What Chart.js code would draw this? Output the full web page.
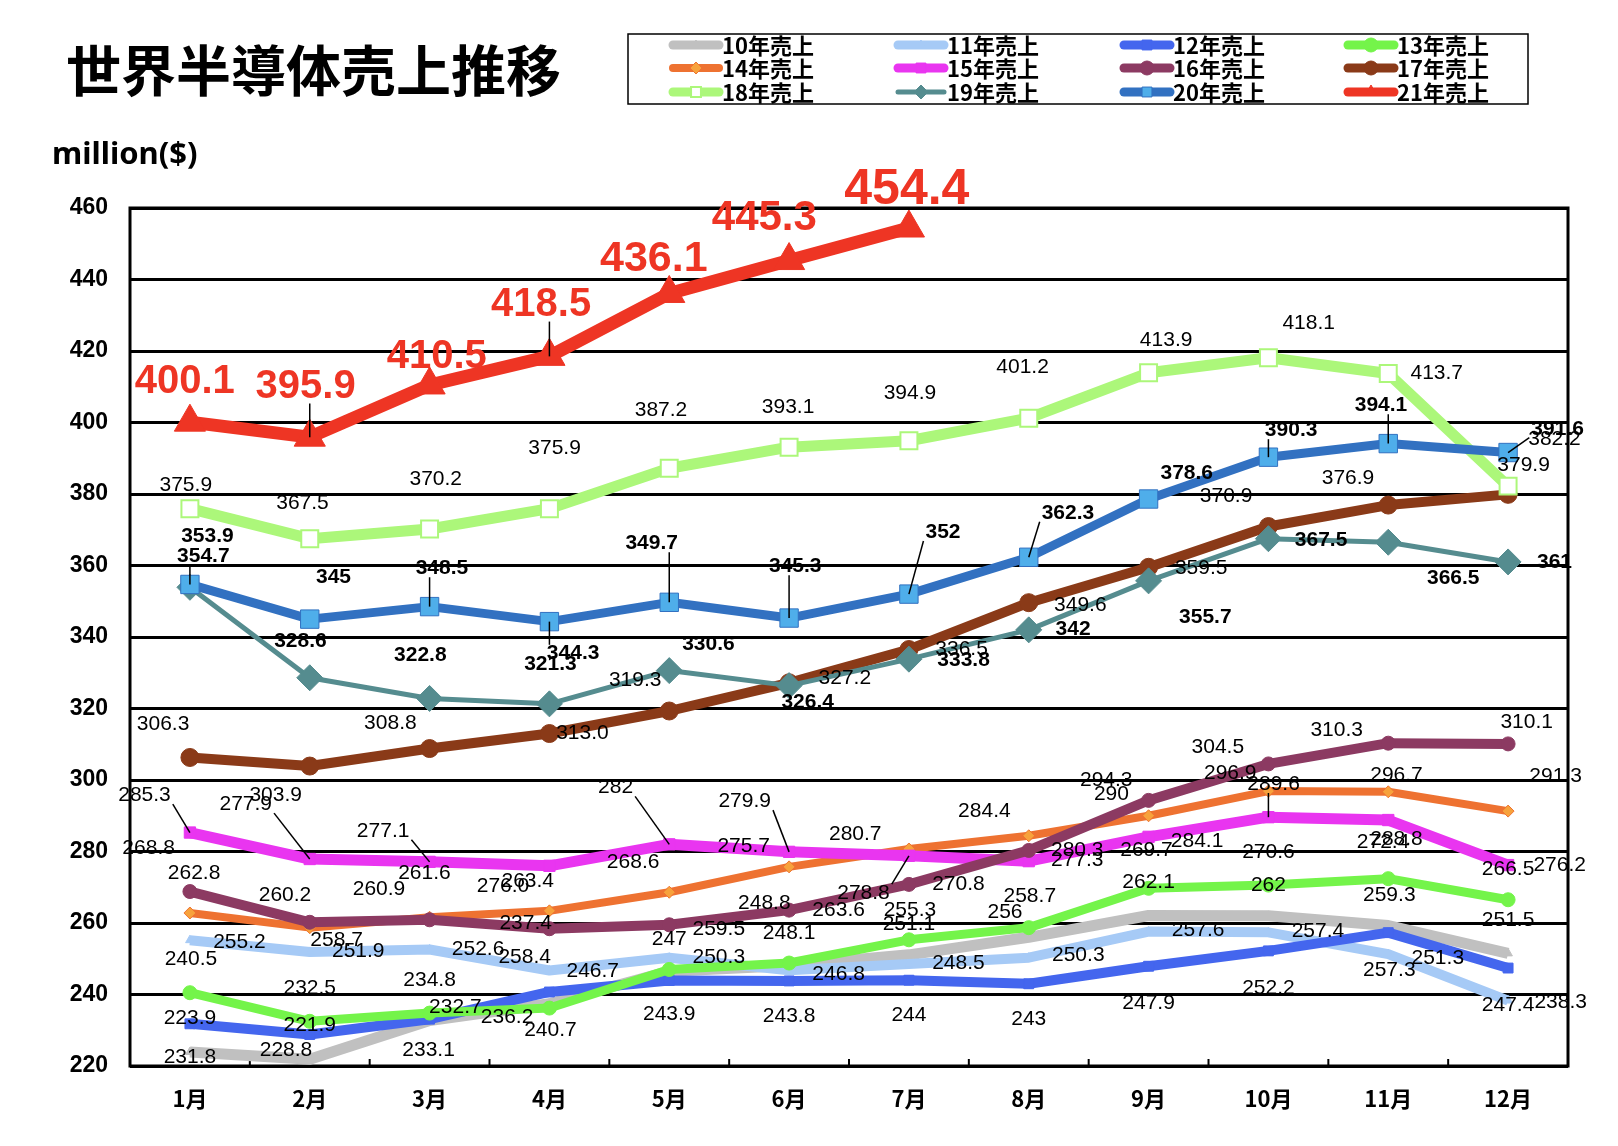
<!DOCTYPE html>
<html>
<head>
<meta charset="utf-8">
<script src="https://cdn.jsdelivr.net/npm/chart.js@4.4.1/dist/chart.umd.min.js"></script>
<style>
  html, body { margin: 0; padding: 0; background: #fff; }
  #wrap { position: relative; width: 1618px; height: 1146px; }
  #chart { position: absolute; left: 0; top: 0; }
  #title { position: absolute; left: 66px; top: 35px; font: 700 55px "Noto Sans CJK JP"; letter-spacing: 0; line-height: 64px; color: #000; }
  #unit { position: absolute; left: 52px; top: 132px; font: 700 31px "Noto Sans"; line-height: 40px; color: #000; }
</style>
</head>
<body>
<div id="wrap">
  <canvas id="chart" width="1618" height="1146"></canvas>
  <div id="title">世界半導体売上推移</div>
  <div id="unit">million($)</div>
</div>
<script>
const MONTHS = ['1月', '2月', '3月', '4月', '5月', '6月', '7月', '8月', '9月', '10月', '11月', '12月'];
const SERIES_NAMES = ['10年売上', '11年売上', '12年売上', '13年売上', '14年売上', '15年売上',
  '16年売上', '17年売上', '18年売上', '19年売上', '20年売上', '21年売上'];

const SALES_2010 = [223.9, 221.9, 232.7, 237.4, 246.5, 248.1, 251.1, 256, 262.1, 262, 259.3, 251.5];
const SALES_2011 = [255.2, 251.9, 252.6, 246.7, 250.3, 246.8, 248.5, 250.3, 257.6, 257.4, 251.3, 238.3];
const SALES_2012 = [231.8, 228.8, 233.1, 240.7, 243.9, 243.8, 244, 243, 247.9, 252.2, 257.3, 247.4];
const SALES_2013 = [240.5, 232.5, 234.8, 236.2, 247, 248.8, 255.3, 258.7, 269.7, 270.6, 272.4, 266.5];
const SALES_2014 = [262.8, 258.7, 261.6, 263.4, 268.6, 275.7, 280.7, 284.4, 290, 296.9, 296.7, 291.3];
const SALES_2015 = [285.3, 277.9, 277.1, 276.0, 282, 279.9, 278.8, 277.3, 284.1, 289.6, 288.8, 276.2];
const SALES_2016 = [268.8, 260.2, 260.9, 258.4, 259.5, 263.6, 270.8, 280.3, 294.3, 304.5, 310.3, 310.1];
const SALES_2017 = [306.3, 303.9, 308.8, 313.0, 319.3, 327.2, 336.5, 349.6, 359.5, 370.9, 376.9, 379.9];
const SALES_2018 = [375.9, 367.5, 370.2, 375.9, 387.2, 393.1, 394.9, 401.2, 413.9, 418.1, 413.7, 382.2];
const SALES_2019 = [353.9, 328.6, 322.8, 321.3, 330.6, 326.4, 333.8, 342, 355.7, 367.5, 366.5, 361];
const SALES_2020 = [354.7, 345, 348.5, 344.3, 349.7, 345.3, 352, 362.3, 378.6, 390.3, 394.1, 391.6];
const SALES_2021 = [400.1, 395.9, 410.5, 418.5, 436.1, 445.3, 454.4];

const Y_MIN = 220;
const Y_MAX = 460;
const Y_STEP = 20;

const ALL_SALES = [SALES_2010, SALES_2011, SALES_2012, SALES_2013, SALES_2014, SALES_2015,
  SALES_2016, SALES_2017, SALES_2018, SALES_2019, SALES_2020, SALES_2021];

// line look of each year
const STYLES = [
  { color: '#C0C0C0', width: 11, point: 'triangle', r: 5, fill: '#C0C0C0' },
  { color: '#A6CAF6', width: 10, point: 'triangle', r: 5, fill: '#A6CAF6' },
  { color: '#4466EE', width: 10, point: 'rect', r: 7, fill: '#4466EE' },
  { color: '#74F44A', width: 9, point: 'circle', r: 7, fill: '#74F44A' },
  { color: '#EE7231', width: 8, point: 'rectRot', r: 6, fill: '#F7A23C' },
  { color: '#E935F0', width: 11, point: 'rect', r: 8, fill: '#E935F0' },
  { color: '#8C3A62', width: 10, point: 'circle', r: 7, fill: '#8C3A62' },
  { color: '#8A3A18', width: 10, point: 'circle', r: 9, fill: '#8A3A18' },
  { color: '#ACF77A', width: 11, point: 'rect', r: 12, fill: '#FFFFFF' },
  { color: '#558C8F', width: 5, point: 'rectRot', r: 13, fill: '#558C8F' },
  { color: '#3271C1', width: 9, point: 'rect', r: 13, fill: '#4FAEEA' },
  { color: '#EE3524', width: 13, point: 'triangle', r: 18, fill: '#EE3524' }
];

// where each value label sits relative to its point (measured on the 1568px view)
const K = 1618 / 1568;
const LABEL_OFFSETS = [
  [[0,-33],[0,-33],[25,-13],[-23,-78],null,[0,-31],[0,-30],[-23,-24],[0,-32],[0,-30],[1,-29],[0,-32]],
  [[48,2],[47,-1],[47,0],[42,1],[48,0],[48,4],[48,-1],[48,-2],[48,-1],[48,-1],[48,4],[51,2]],
  [[0,32],[-23,15],[-1,30],[1,37],[0,33],[0,34],[0,34],[0,34],[0,36],[0,36],[1,36],[0,36]],
  [[1,-32],[0,-32],[0,-32],[-41,9],[0,-29],[-24,-58],[1,-29],[1,-30],[-2,-37],[0,-32],[-5,-35],[0,-30]],
  [[4,-39],[26,12],[-5,-43],[-21,-29],[-35,-29],[-44,-20],[-52,-14],[-43,-24],[-36,-21],[-37,-17],[8,-16],[46,-34]],
  [[-44,-36],[-62,-53],[-45,-30],[-45,20],[-52,-55],[-43,-49],[-44,36],[47,-1],[47,4],[5,-32],[8,19],[50,0]],
  [[-40,-42],[-24,-26],[-49,-30],[-24,28],[48,4],[48,0],[48,0],[47,0],[-41,-20],[-49,-16],[-50,-13],[18,-21]],
  [[-26,-32],[-33,28],[-38,-25],[32,0],[-33,-30],[54,-4],[51,0],[50,2],[51,1],[-41,-29],[-39,-26],[15,-28]],
  [[-4,-23],[-7,-34],[6,-48],[5,-59],[-8,-56],[-1,-39],[1,-46],[-6,-49],[17,-32],[39,-34],[47,0],[45,-45]],
  [[17,-50],[-9,-35],[-9,-42],[1,-38],[38,-26],[18,16],[53,1],[43,-1],[55,35],[51,1],[63,35],[45,0]],
  [[13,-27],[23,-41],[12,-37],[23,31],[-17,-57],[6,-50],[33,-60],[38,-43],[37,-25],[22,-26],[-7,-37],[48,-23]],
  [[-5,-39],[-4,-49],[7,-27],[-8,-50],[-15,-33],[-24,-41],[-2,-37]]
];
const LEADERS = { 5: [0, 1, 2, 4, 5, 6, 9], 10: [0, 2, 3, 4, 5, 6, 7, 9, 10, 11], 11: [1, 3] };
const BOLD_LABELS = [9, 10];
const RED_LABEL_SIZES = [40, 40, 40, 40, 43, 42, 50];
const LABEL_TEXT = { 5: { 3: '276.0' }, 7: { 3: '313.0' } };

function labelText(si, i, v) {
  if (LABEL_TEXT[si] && LABEL_TEXT[si][i]) return LABEL_TEXT[si][i];
  return String(v);
}

const datasets = ALL_SALES.map((data, i) => ({
  label: SERIES_NAMES[i],
  data: data,
  borderColor: STYLES[i].color,
  backgroundColor: STYLES[i].fill,
  borderWidth: STYLES[i].width,
  borderJoinStyle: 'round',
  pointStyle: STYLES[i].point,
  pointRadius: STYLES[i].r,
  pointHoverRadius: STYLES[i].r,
  pointBackgroundColor: STYLES[i].fill,
  pointBorderColor: STYLES[i].color,
  pointBorderWidth: i === 8 ? 2 : 1,
  tension: 0,
  order: 12 - i
}));

const framePlugin = {
  id: 'frame',
  beforeDatasetsDraw(chart) {
    const { ctx, chartArea: a, scales } = chart;
    ctx.save();
    ctx.strokeStyle = '#000';
    ctx.lineWidth = 3;
    ctx.strokeRect(a.left, a.top, a.right - a.left, a.bottom - a.top);
    ctx.lineWidth = 2;
    for (let i = 1; i < MONTHS.length; i++) {
      const x = (scales.x.getPixelForValue(i - 1) + scales.x.getPixelForValue(i)) / 2;
      ctx.beginPath();
      ctx.moveTo(x, a.bottom);
      ctx.lineTo(x, a.bottom - 7);
      ctx.stroke();
    }
    ctx.restore();
  }
};

const labelPlugin = {
  id: 'valueLabels',
  afterDatasetsDraw(chart) {
    const ctx = chart.ctx;
    ctx.save();
    ctx.textAlign = 'center';
    ctx.textBaseline = 'middle';
    chart.data.datasets.forEach((ds, si) => {
      const meta = chart.getDatasetMeta(si);
      meta.data.forEach((pt, i) => {
        const off = LABEL_OFFSETS[si][i];
        if (!off || ds.data[i] == null) return;
        const lx = pt.x + off[0] * K;
        const ly = pt.y + off[1] * K;
        const text = labelText(si, i, ds.data[i]);
        let size = 21;
        let color = '#000';
        let weight = BOLD_LABELS.includes(si) ? 'bold ' : '';
        if (si === 11) {
          size = RED_LABEL_SIZES[i];
          color = '#EE3524';
          weight = 'bold ';
        }
        ctx.font = weight + size + 'px "Liberation Sans", Arial, sans-serif';
        if (LEADERS[si] && LEADERS[si].includes(i)) {
          const w = ctx.measureText(text).width / 2 + 2;
          const h = size * 0.42;
          const sx = Math.min(Math.max(pt.x, lx - w), lx + w);
          const sy = Math.min(Math.max(pt.y, ly - h), ly + h);
          ctx.strokeStyle = '#000';
          ctx.lineWidth = 1.5;
          ctx.beginPath();
          ctx.moveTo(sx, sy);
          ctx.lineTo(pt.x, pt.y);
          ctx.stroke();
        }
        ctx.fillStyle = color;
        ctx.fillText(text, lx, ly);
      });
    });
    ctx.restore();
  }
};

const legendPlugin = {
  id: 'boxLegend',
  afterDraw(chart) {
    const ctx = chart.ctx;
    const colX = [669, 894, 1120, 1344];
    const rowY = [45, 68, 92];
    ctx.save();
    ctx.strokeStyle = '#000';
    ctx.lineWidth = 1.5;
    ctx.strokeRect(628, 34, 900, 70);
    ctx.font = 'bold 22px "Noto Sans CJK JP"';
    ctx.textBaseline = 'middle';
    ctx.textAlign = 'left';
    chart.data.datasets.forEach((ds, i) => {
      const x = colX[i % 4];
      const y = rowY[Math.floor(i / 4)];
      ctx.strokeStyle = ds.borderColor;
      ctx.lineWidth = Math.min(ds.borderWidth, 9);
      ctx.lineCap = 'round';
      ctx.beginPath();
      ctx.moveTo(x + 4, y);
      ctx.lineTo(x + 50, y);
      ctx.stroke();
      ctx.lineCap = 'butt';
      ctx.fillStyle = ds.pointBackgroundColor;
      ctx.strokeStyle = ds.pointBorderColor;
      ctx.lineWidth = ds.pointBorderWidth;
      Chart.helpers.drawPoint(ctx, {
        pointStyle: ds.pointStyle,
        radius: Math.min(ds.pointRadius, 7),
        rotation: 0,
        borderWidth: ds.pointBorderWidth
      }, x + 27, y);
      ctx.fillStyle = '#000';
      ctx.fillText(ds.label, x + 53, y + 1);
    });
    ctx.restore();
  }
};

new Chart(document.getElementById('chart').getContext('2d'), {
  type: 'line',
  data: { labels: MONTHS, datasets: datasets },
  options: {
    responsive: false,
    animation: false,
    layout: { padding: { top: 208, right: 50, left: 0, bottom: 0 } },
    plugins: { legend: { display: false }, tooltip: { enabled: false } },
    scales: {
      x: {
        offset: true,
        grid: { display: false },
        border: { display: false },
        ticks: {
          autoSkip: false,
          maxRotation: 0,
          padding: 11,
          color: '#000',
          font: { family: '"Noto Sans CJK JP"', size: 22, weight: 'bold' }
        },
        afterFit(scale) { scale.height = 80; }
      },
      y: {
        min: Y_MIN,
        max: Y_MAX,
        grid: { color: '#000', lineWidth: 3, drawTicks: false },
        border: { display: false },
        ticks: {
          stepSize: Y_STEP,
          padding: 22,
          color: '#000',
          font: { family: '"Liberation Sans"', size: 23, weight: 'bold' }
        },
        afterFit(scale) { scale.width = 130; }
      }
    }
  },
  plugins: [framePlugin, labelPlugin, legendPlugin]
});
</script>
</body>
</html>
